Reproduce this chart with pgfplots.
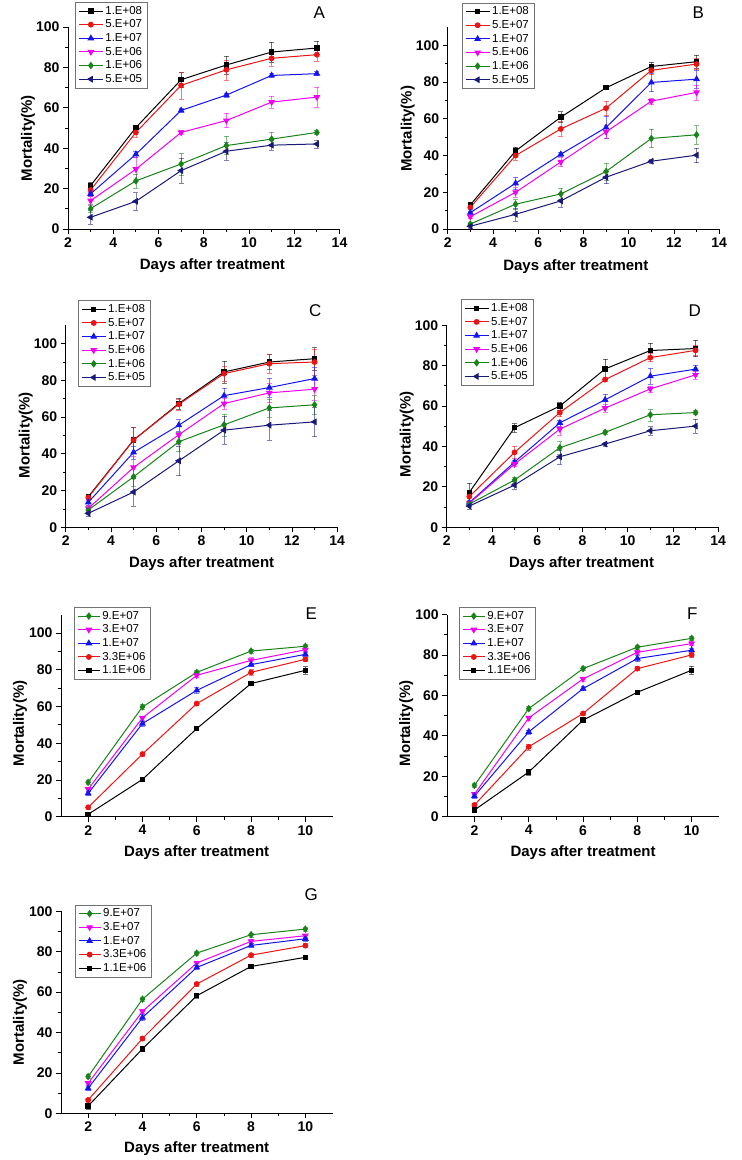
\documentclass[border=0pt]{standalone}
\usepackage{pgfplots}
\pgfplotsset{compat=1.18}
\usepackage{fontspec}
\setmainfont{Liberation Sans}
\definecolor{cblack}{RGB}{0,0,0}
\definecolor{cred}{RGB}{235,20,20}
\definecolor{cblue}{RGB}{20,20,240}
\definecolor{cmag}{RGB}{240,0,240}
\definecolor{cgreen}{RGB}{25,130,25}
\definecolor{cnavy}{RGB}{25,25,120}
\tikzset{plab/.style={font=\fontsize{17}{17}\selectfont}}
\pgfplotsset{
  panel/.style={
    scale only axis, width=271.5pt, height=202pt,
    anchor=south west, clip=false,
    axis x line*=bottom, axis y line*=left,
    axis line style={-, line width=0.8pt},
    tick align=outside, tick style={line width=0.8pt, black},
    major tick length=5pt, minor tick length=3pt,
    minor x tick num=1, minor y tick num=1,
    ymin=0, ytick={0,20,...,100},
    /pgf/number format/assume math mode=true,
    tick label style={font=\fontsize{14}{14}\selectfont\bfseries},
    label style={font=\fontsize{15}{15}\selectfont\bfseries},
    xlabel={Days after treatment}, ylabel={Mortality(\%)},
    legend cell align=left,
    legend style={draw=black!55, line width=0.6pt, font=\fontsize{11.5}{12}\selectfont,
      inner xsep=3pt, inner ysep=2pt, row sep=0.1pt, anchor=north west},
    legend image code/.code={\draw[mark repeat=2,mark phase=2,line width=1pt] plot coordinates {(0pt,0pt) (12pt,0pt) (24pt,0pt)};},
    every axis plot/.append style={line width=1pt},
    error bars/y dir=both, error bars/y explicit,
    error bars/error bar style={line width=0.6pt, opacity=0.55},
    error bars/error mark options={rotate=90, mark size=2.5pt, opacity=0.55},
  },
  pA/.style={xmin=2, xmax=14, xtick={2,4,...,14}},
  pE/.style={xmin=1, xmax=11, xtick={2,4,...,10},
    legend image code/.code={\draw[mark repeat=2,mark phase=2,line width=1pt] plot coordinates {(0pt,0pt) (11pt,0pt) (22pt,0pt)};}},
  s1/.style={color=cblack, mark=square*, mark size=2.2pt, mark options={solid}},
  s2/.style={color=cred, mark=*, mark size=2.4pt, mark options={solid}},
  s3/.style={color=cblue, mark=triangle*, mark size=3pt, mark options={solid}},
  s4/.style={color=cmag, mark=triangle*, mark size=3pt, mark options={solid, rotate=180}},
  s5/.style={color=cgreen, mark=diamond*, mark size=3pt, mark options={solid}},
  s6/.style={color=cnavy, mark=triangle*, mark size=3pt, mark options={solid, rotate=90}},
}
\begin{document}
\begin{tikzpicture}
\path[use as bounding box] (0pt,0pt) rectangle (742pt,1160pt);
% ---------------- A
\begin{axis}[panel, pA, at={(68pt,931pt)}, ymax=100,
  xlabel style={at={(axis description cs:0.532,-0.182)}, anchor=center},
  ylabel style={at={(axis description cs:-0.147,0.45)}, anchor=center},
  legend style={at={(axis description cs:0.026,1.124)}}]
\addplot[s1] table[y error index=2] {
3 21.5 1.5
5 50.2 1
7 73.9 3.5
9 81.2 4.5
11 87.6 5
13 89.6 3.6
};
\addplot[s2] table[y error index=2] {
3 19.3 1.5
5 47.8 2.5
7 71.1 6.6
9 78.8 5
11 84.5 4
13 86.3 3
};
\addplot[s3] table[y error index=2] {
3 17.4 1
5 37.0 1.5
7 58.7 1
9 66.3 1
11 76.0 1
13 76.9 1
};
\addplot[s4] table[y error index=2] {
3 14.0 2
5 29.6 6
7 47.8 1
9 53.7 3.5
11 62.8 3
13 65.3 5
};
\addplot[s5] table[y error index=2] {
3 10.1 2
5 23.8 3.5
7 32.2 5.5
9 41.3 4.5
11 44.5 3.5
13 47.8 1
};
\addplot[s6] table[y error index=2] {
3 5.8 3.5
5 13.7 4.3
7 28.9 6
9 38.5 4.5
11 41.5 2.5
13 42.1 2
};
\legend{1.E+08,5.E+07,1.E+07,5.E+06,1.E+06,5.E+05}
\node[plab] at (axis description cs:0.926,1.069) {A};
\end{axis}
% ---------------- B
\begin{axis}[panel, pA, at={(447.7pt,931pt)}, ymax=110,
  xlabel style={at={(axis description cs:0.472,-0.187)}, anchor=center},
  ylabel style={at={(axis description cs:-0.147,0.496)}, anchor=center},
  legend style={at={(axis description cs:0.052,1.121)}}]
\addplot[s1] table[y error index=2] {
3 13.1 1
5 42.5 2
7 60.9 3
9 76.9 1
11 88.5 2.5
13 91.1 3.5
};
\addplot[s2] table[y error index=2] {
3 11.8 1
5 40.0 2.5
7 54.5 4
9 65.8 4
11 86.4 2
13 89.8 3
};
\addplot[s3] table[y error index=2] {
3 8.9 1
5 24.9 3.5
7 40.7 1
9 55.3 6
11 79.8 5
13 81.6 5
};
\addplot[s4] table[y error index=2] {
3 6.7 1
5 20.0 2.5
7 36.5 2.5
9 52.9 3.5
11 69.6 1.5
13 74.4 4
};
\addplot[s5] table[y error index=2] {
3 2.7 1
5 13.5 2.5
7 19.1 3
9 31.3 4.5
11 49.3 5
13 51.3 5
};
\addplot[s6] table[y error index=2] {
3 1.5 1
5 8.0 3.5
7 15.3 3.5
9 28.2 3.5
11 36.9 1
13 40.2 4
};
\legend{1.E+08,5.E+07,1.E+07,5.E+06,1.E+06,5.E+05}
\node[plab] at (axis description cs:0.923,1.07) {B};
\end{axis}
% ---------------- C
\begin{axis}[panel, pA, at={(65.7pt,632.7pt)}, ymax=110,
  xlabel style={at={(axis description cs:0.501,-0.178)}, anchor=center},
  ylabel style={at={(axis description cs:-0.147,0.456)}, anchor=center},
  legend style={at={(axis description cs:0.045,1.124)}}]
\addplot[s1] table[y error index=2] {
3 16.7 1.5
5 47.5 7
7 67.4 3
9 84.6 6
11 90.0 4
13 91.8 6
};
\addplot[s2] table[y error index=2] {
3 16.3 1.5
5 47.5 7
7 67.0 3
9 83.7 4
11 89.1 5
13 90.0 7
};
\addplot[s3] table[y error index=2] {
3 13.6 1.5
5 40.8 3.5
7 55.6 3
9 71.7 4
11 76.1 5
13 81.0 6
};
\addplot[s4] table[y error index=2] {
3 10.3 1.5
5 32.6 6
7 50.4 5
9 67.4 3
11 73.2 5
13 75.2 6
};
\addplot[s5] table[y error index=2] {
3 9.4 1.5
5 27.5 5
7 46.6 5
9 55.8 6
11 65.0 5
13 66.7 5
};
\addplot[s6] table[y error index=2] {
3 7.6 1.5
5 19.2 7.5
7 36.2 8
9 52.9 7.5
11 55.6 8
13 57.4 8
};
\legend{1.E+08,5.E+07,1.E+07,5.E+06,1.E+06,5.E+05}
\node[plab] at (axis description cs:0.919,1.074) {C};
\end{axis}
% ---------------- D
\begin{axis}[panel, pA, at={(446.7pt,632.7pt)}, ymax=100,
  xlabel style={at={(axis description cs:0.497,-0.178)}, anchor=center},
  ylabel style={at={(axis description cs:-0.147,0.461)}, anchor=center},
  legend style={at={(axis description cs:0.052,1.129)}}]
\addplot[s1] table[y error index=2] {
3 17.3 4.5
5 49.3 2
7 60.0 2
9 78.4 5
11 87.5 3.5
13 88.5 4
};
\addplot[s2] table[y error index=2] {
3 15.2 2.5
5 37.1 3
7 56.8 2
9 73.1 1
11 84.0 2
13 87.6 2.5
};
\addplot[s3] table[y error index=2] {
3 12.2 1
5 32.3 1
7 51.7 1.5
9 63.1 3
11 74.8 4
13 78.3 2
};
\addplot[s4] table[y error index=2] {
3 11.9 1
5 31.3 1
7 48.6 3
9 59.0 2
11 68.5 1.5
13 75.5 2
};
\addplot[s5] table[y error index=2] {
3 11.5 1
5 23.4 1.5
7 39.4 3
9 47.0 1
11 55.7 3
13 56.8 1
};
\addplot[s6] table[y error index=2] {
3 10.5 1.5
5 20.9 2
7 34.9 3.5
9 41.2 1
11 47.8 2
13 50.1 3.5
};
\legend{1.E+08,5.E+07,1.E+07,5.E+06,1.E+06,5.E+05}
\node[plab] at (axis description cs:0.914,1.071) {D};
\end{axis}
% ---------------- E
\begin{axis}[panel, pE, at={(61pt,343.3pt)}, ymax=110,
  xlabel style={at={(axis description cs:0.5,-0.178)}, anchor=center},
  ylabel style={at={(axis description cs:-0.151,0.461)}, anchor=center},
  legend style={at={(axis description cs:0.048,1.038)}}]
\addplot[s5] table[y error index=2] {
2 18.7 1
4 59.8 1.5
6 78.6 1
8 90.2 1
10 92.8 1
};
\addplot[s4] table[y error index=2] {
2 15.0 1
4 53.8 1
6 77.0 1
8 85.1 1.5
10 90.9 1
};
\addplot[s3] table[y error index=2] {
2 12.7 1
4 50.7 1.5
6 68.8 1.5
8 82.8 1
10 88.4 1
};
\addplot[s2] table[y error index=2] {
2 5.1 1
4 34.1 1
6 61.6 1
8 78.6 1.5
10 85.7 1
};
\addplot[s1] table[y error index=2] {
2 1.3 1
4 20.3 1
6 48.0 1
8 72.5 1
10 79.7 2
};
\legend{9.E+07,3.E+07,1.E+07,3.3E+06,1.1E+06}
\node[plab] at (axis description cs:0.922,1.006) {E};
\end{axis}
% ---------------- F
\begin{axis}[panel, pE, at={(447.3pt,343.3pt)}, ymax=100,
  xlabel style={at={(axis description cs:0.5,-0.178)}, anchor=center},
  ylabel style={at={(axis description cs:-0.151,0.461)}, anchor=center},
  legend style={at={(axis description cs:0.043,1.038)}}]
\addplot[s5] table[y error index=2] {
2 15.5 1
4 53.5 1
6 73.3 1
8 83.9 1
10 88.3 1
};
\addplot[s4] table[y error index=2] {
2 11.2 1
4 48.9 1
6 68.2 1
8 81.4 1
10 85.7 1
};
\addplot[s3] table[y error index=2] {
2 10.2 1
4 42.0 1
6 63.4 1
8 78.3 1.5
10 82.4 1
};
\addplot[s2] table[y error index=2] {
2 5.8 1
4 34.6 1.5
6 51.1 1
8 73.3 1
10 80.1 1
};
\addplot[s1] table[y error index=2] {
2 3.3 1
4 22.1 1.5
6 47.8 1
8 61.6 1
10 72.5 2
};
\legend{9.E+07,3.E+07,1.E+07,3.3E+06,1.1E+06}
\node[plab] at (axis description cs:0.902,1.006) {F};
\end{axis}
% ---------------- G
\begin{axis}[panel, pE, at={(61pt,46.7pt)}, ymax=100,
  xlabel style={at={(axis description cs:0.5,-0.174)}, anchor=center},
  ylabel style={at={(axis description cs:-0.151,0.451)}, anchor=center},
  legend style={at={(axis description cs:0.051,1.033)}}]
\addplot[s5] table[y error index=2] {
2 18.2 1
4 56.5 1
6 79.3 1
8 88.4 1
10 91.2 1
};
\addplot[s4] table[y error index=2] {
2 14.9 1
4 50.4 1
6 74.4 1
8 85.1 1
10 87.9 1
};
\addplot[s3] table[y error index=2] {
2 12.4 1
4 47.4 1.5
6 72.2 1
8 83.1 1
10 86.4 1
};
\addplot[s2] table[y error index=2] {
2 6.6 1
4 37.0 1
6 64.0 1
8 78.3 1
10 83.0 1
};
\addplot[s1] table[y error index=2] {
2 3.6 1.5
4 31.9 1
6 58.2 1
8 72.7 1
10 77.2 1
};
\legend{9.E+07,3.E+07,1.E+07,3.3E+06,1.1E+06}
\node[plab] at (axis description cs:0.922,1.083) {G};
\end{axis}
\end{tikzpicture}
\end{document}
